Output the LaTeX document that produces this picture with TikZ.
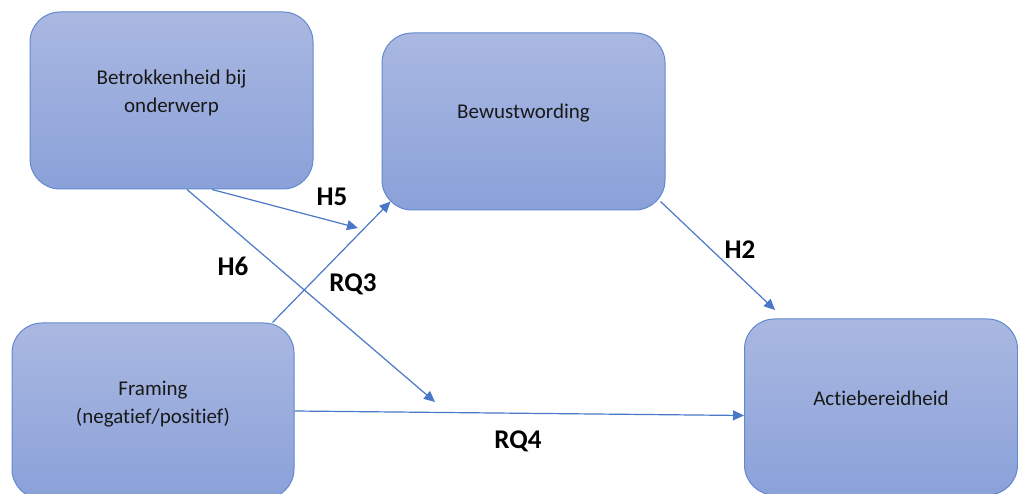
\documentclass[tikz,border=0pt]{standalone}
\usepackage{fontspec}
\setmainfont{Carlito}[Ligatures=NoCommon]
\usetikzlibrary{arrows.meta,calc}
\definecolor{boxtop}{RGB}{170,184,225}
\definecolor{boxbot}{RGB}{138,161,217}
\definecolor{boxline}{RGB}{98,136,206}
\definecolor{arrowblue}{RGB}{74,120,200}
\tikzset{
  varbox/.style={draw=boxline, line width=1pt, rounded corners=30pt,
    top color=boxtop, bottom color=boxbot, inner sep=0pt},
  boxtext/.style={align=center, font=\fontsize{21}{28}\selectfont, text=black!90},
  hyp/.style={font=\fontsize{27}{30}\selectfont\bfseries, text=black},
  link/.style={draw=arrowblue, line width=1.2pt},
  linkarrow/.style={link, -{Triangle[length=11pt,width=10pt]}},
}
\begin{document}
\begin{tikzpicture}[x=1pt,y=-1pt]
  \useasboundingbox (0,0) rectangle (1018,494);

  % variable boxes
  \node[varbox, minimum width=283pt, minimum height=177pt] (b1) at (171.5,100.5) {};
  \node[varbox, minimum width=283pt, minimum height=177pt] (b2) at (523.5,121.5) {};
  \node[varbox, minimum width=282pt, minimum height=176pt] (b3) at (153,411) {};
  \node[varbox, minimum width=273pt, minimum height=176pt] (b4) at (881,407) {};

  \node[boxtext] (t1) at ($(b1.center)+(0,-8)$) {Betrokkenheid bij\\onderwerp};
  \node[boxtext] (t2) at ($(b2.center)+(0,-8.5)$) {Bewustwording};
  \node[boxtext] (t3) at ($(b3.center)+(0,-7)$) {Framing\\(negatief/positief)};
  \node[boxtext] (t4) at ($(b4.center)+(0,-9)$) {Actiebereidheid};

  % free arrow ends
  \coordinate (h5end) at (358,228);
  \coordinate (h6end) at (435,402);
  \coordinate (h2end) at (775,310);

  % connectors
  \draw[linkarrow] ($(b1.south)+(40.5,0)$) -- (h5end);
  \draw[linkarrow] ($(b1.south)+(15.5,0)$) -- (h6end);
  \draw[linkarrow] ($(b3.north east)+(-22,0)$) -- ($(b2.south west)+(9,-9)$);
  \draw[linkarrow] ($(b2.south east)+(-5,-9)$) -- (h2end);
  \draw[linkarrow] (b3.east) -- ($(b4.west)+(0,8.5)$);

  % path labels
  \node[hyp] (l5) at (332,197) {H5};
  \node[hyp] (l6) at (233,266) {H6};
  \node[hyp] (lq3) at (353,284) {RQ3};
  \node[hyp] (l2) at (740,250) {H2};
  \node[hyp] (lq4) at (518,441) {RQ4};
\end{tikzpicture}
\end{document}
